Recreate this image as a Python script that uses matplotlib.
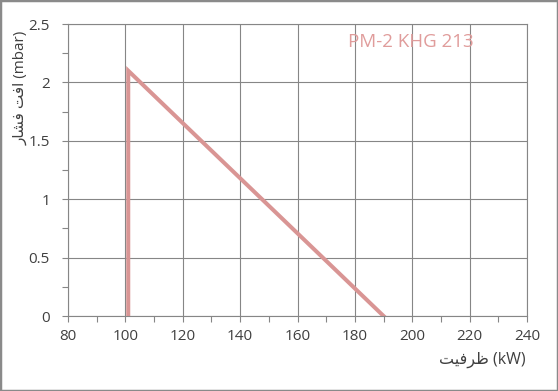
import matplotlib
matplotlib.use('Agg')
import matplotlib.pyplot as plt
from matplotlib.patches import Rectangle
from matplotlib.ticker import MultipleLocator

plt.rcParams['font.family'] = ['Open Sans', 'DejaVu Sans']

# capacity (kW) vs pressure drop (mbar)
capacity = [101, 101, 190]
pressure = [0, 2.1, 0]
x_ticks = [80, 100, 120, 140, 160, 180, 200, 220, 240]
y_ticks = [0, 0.5, 1, 1.5, 2, 2.5]
series_name = 'PM-2 KHG 213'

# arabic labels written in presentation forms, visual order
x_title = '\uFE96\uFEF4\uFED3\uFEAE\uFEC7 (kW)'
y_title = '\uFEAD\uFE8E\uFEB8\uFED3 \uFE96\uFED3\uFE8D (mbar)'

grid_col = '#868686'
text_col = '#404040'
line_col = '#D99594'

fig = plt.figure(figsize=(5.58, 3.91), dpi=100)
ax = fig.add_axes([68 / 558, 1 - 316 / 391, 459 / 558, 292 / 391])

ax.plot(capacity, pressure, color=line_col, lw=2.9, solid_joinstyle='miter')

ax.set_xlim(80, 240)
ax.set_ylim(0, 2.5)
ax.set_xticks(x_ticks)
ax.set_yticks(y_ticks)
ax.set_yticklabels(['0', '0.5', '1', '1.5', '2', '2.5'])
ax.xaxis.set_minor_locator(MultipleLocator(10))
ax.yaxis.set_minor_locator(MultipleLocator(0.25))
ax.grid(True, which='major', color=grid_col, lw=0.8)
ax.set_axisbelow(True)
ax.tick_params(which='both', direction='out', length=4, width=0.8, color=grid_col,
               labelsize=11, labelcolor=text_col, top=False, right=False)
ax.tick_params(axis='x', pad=5)
ax.tick_params(axis='y', pad=9)
for s in ax.spines.values():
    s.set_color(grid_col)
    s.set_linewidth(0.8)

ax.text(0.747, 0.938, series_name, transform=ax.transAxes, ha='center', va='center',
        fontsize=13.5, color='#E09C9B')

fig.text(526 / 558, 1 - 360 / 391, x_title, ha='right', va='center', fontsize=11.5,
         color=text_col)
fig.text(21 / 558, 1 - 88 / 391, y_title, ha='center', va='center', rotation=90,
         fontsize=11, color=text_col)

fig.patches.append(Rectangle((0, 0), 1, 1, transform=fig.transFigure, fill=False,
                             edgecolor='#8a8a8a', lw=2.5))

fig.savefig('out.png', dpi=100)
